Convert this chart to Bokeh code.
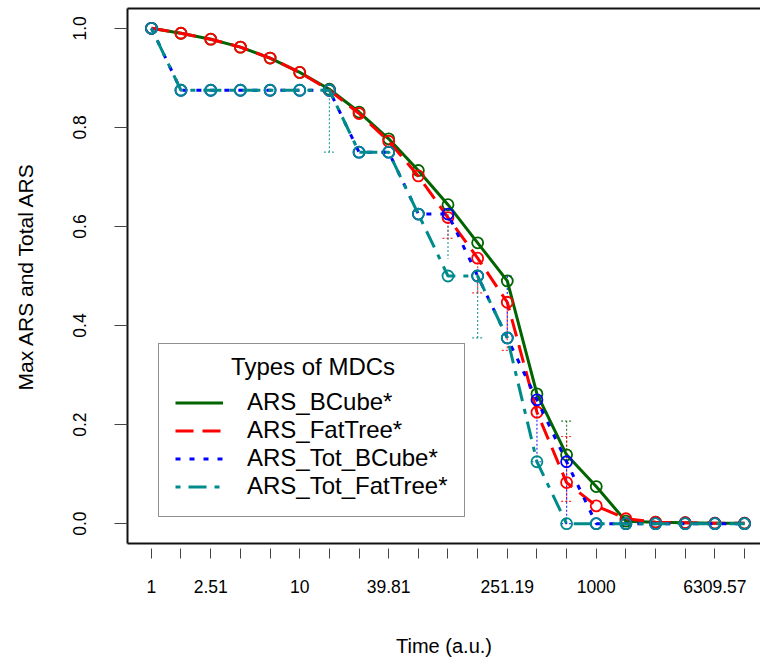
from bokeh.plotting import figure
from bokeh.models import (FixedTicker, Legend, LegendItem, Range1d,
                          NumeralTickFormatter, LogAxis)
from bokeh.core.properties import value
from bokeh.embed import file_html
from bokeh.resources import INLINE

# ---------------- data ----------------
time = [1, 1.58, 2.51, 3.98, 6.31, 10, 15.85, 25.12, 39.81, 63.1, 100,
        158.49, 251.19, 398.11, 630.96, 1000, 1584.89, 2511.89, 3981.07,
        6309.57, 10000]

ars_bcube = [1.0, 0.99, 0.978, 0.962, 0.94, 0.911, 0.877, 0.831, 0.777,
             0.713, 0.644, 0.567, 0.49, 0.262, 0.139, 0.075, 0.005, 0.003,
             0.002, 0.001, 0.001]
ars_fattree = [1.0, 0.99, 0.978, 0.962, 0.94, 0.911, 0.875, 0.828, 0.772,
               0.702, 0.618, 0.536, 0.447, 0.225, 0.083, 0.036, 0.01, 0.003,
               0.002, 0.001, 0.001]
ars_tot_bcube = [1.0, 0.875, 0.875, 0.875, 0.875, 0.875, 0.875, 0.75, 0.75,
                 0.625, 0.625, 0.5, 0.375, 0.25, 0.125, 0.0, 0.0, 0.0, 0.0,
                 0.0, 0.0]
ars_tot_fattree = [1.0, 0.875, 0.875, 0.875, 0.875, 0.875, 0.875, 0.75, 0.75,
                   0.625, 0.5, 0.5, 0.375, 0.125, 0.0, 0.0, 0.0, 0.0, 0.0,
                   0.0, 0.0]

# error bars (dotted): x, from, to ; caps: x, y
err_bcube_x = [630.96]
err_bcube_from = [0.139]
err_bcube_to = [0.207]
cap_bcube_x = [630.96]
cap_bcube_y = [0.207]

err_fattree_x = [100, 158.49, 251.19, 630.96]
err_fattree_from = [0.618, 0.536, 0.447, 0.176]
err_fattree_to = [0.576, 0.466, 0.35, 0.045]
cap_fattree_x = [100, 158.49, 251.19, 630.96, 630.96]
cap_fattree_y = [0.576, 0.466, 0.35, 0.176, 0.045]

err_tot_bcube_x = [251.19, 398.11, 630.96]
err_tot_bcube_from = [0.375, 0.25, 0.125]
err_tot_bcube_to = [0.5, 0.125, 0.0]
cap_tot_bcube_x = [251.19, 398.11, 630.96]
cap_tot_bcube_y = [0.5, 0.125, 0.0]

err_tot_fattree_x = [15.85, 100, 158.49]
err_tot_fattree_from = [0.875, 0.625, 0.5]
err_tot_fattree_to = [0.75, 0.535, 0.375]
cap_tot_fattree_x = [15.85, 158.49]
cap_tot_fattree_y = [0.75, 0.375]

x_tick_labels = {1: "1", 2.51: "2.51", 10: "10", 39.81: "39.81",
                 251.19: "251.19", 1000: "1000", 6309.57: "6309.57"}
y_ticks = [0.0, 0.2, 0.4, 0.6, 0.8, 1.0]

series_names = ["ARS_BCube*", "ARS_FatTree*", "ARS_Tot_BCube*", "ARS_Tot_FatTree*"]
legend_title = "Types of MDCs"

# ---------------- styles ----------------
FONT = "Liberation Sans"
colors = ["#006400", "#ff0000", "#0000ff", "#008b8b"]
dashes = ["solid", "18 9", "5 9", "5 8 18 8"]
BOX = "#111111"

p = figure(width=760, height=661, output_backend="svg", toolbar_location=None,
           x_axis_type="log",
           x_range=Range1d(0.689, 12820), y_range=Range1d(-0.04, 1.04),
           min_border_left=127, min_border_right=0, min_border_top=8,
           min_border_bottom=118)
p.background_fill_color = "white"
p.border_fill_color = "white"
p.outline_line_color = None
p.xgrid.visible = False
p.ygrid.visible = False

# x axis (box bottom line + offset ticks)
xa = p.xaxis[0]
xa.ticker = FixedTicker(ticks=time, minor_ticks=[])
xa.major_label_overrides = {t: x_tick_labels.get(t, "") for t in time}
xa.axis_line_color = BOX
xa.axis_line_width = 2
xa.major_tick_in = -5
xa.major_tick_out = 15
xa.major_tick_line_color = "#444444"
xa.minor_tick_line_color = None
xa.major_label_standoff = 21
xa.major_label_text_font = FONT
xa.major_label_text_font_size = "17.5px"
xa.major_label_text_color = "black"
xa.axis_label = "Time (a.u.)"
xa.axis_label_text_font = FONT
xa.axis_label_text_font_size = "20px"
xa.axis_label_text_font_style = "normal"
xa.axis_label_text_color = "black"
xa.axis_label_standoff = 39

# y axis (box left line)
ya = p.yaxis[0]
ya.ticker = FixedTicker(ticks=y_ticks, minor_ticks=[])
ya.formatter = NumeralTickFormatter(format="0.0")
ya.axis_line_color = BOX
ya.axis_line_width = 2
ya.major_tick_in = 0
ya.major_tick_out = 13
ya.major_tick_line_color = "#444444"
ya.minor_tick_line_color = None
ya.major_label_orientation = "parallel"
ya.major_label_standoff = 28
ya.major_label_text_font = FONT
ya.major_label_text_font_size = "17.5px"
ya.major_label_text_color = "black"
ya.axis_label = "Max ARS and Total ARS"
ya.axis_label_text_font = FONT
ya.axis_label_text_font_size = "21px"
ya.axis_label_text_font_style = "normal"
ya.axis_label_text_color = "black"
ya.axis_label_standoff = 34

# top box line
top = LogAxis(ticker=FixedTicker(ticks=[], minor_ticks=[]),
              axis_line_color=BOX, axis_line_width=2,
              major_tick_line_color=None, minor_tick_line_color=None,
              major_label_text_font_size="0px")
p.add_layout(top, "above")

# error bars (under lines)
errs = [
    (err_bcube_x, err_bcube_from, err_bcube_to, cap_bcube_x, cap_bcube_y),
    (err_fattree_x, err_fattree_from, err_fattree_to, cap_fattree_x, cap_fattree_y),
    (err_tot_bcube_x, err_tot_bcube_from, err_tot_bcube_to, cap_tot_bcube_x, cap_tot_bcube_y),
    (err_tot_fattree_x, err_tot_fattree_from, err_tot_fattree_to, cap_tot_fattree_x, cap_tot_fattree_y),
]
for (ex, ef, et, cx, cy), c in zip(errs, colors):
    p.segment(x0=ex, y0=ef, x1=ex, y1=et, line_color=c, line_width=1.2,
              line_dash="2 2", line_alpha=0.8)
    p.scatter(x=cx, y=cy, marker="dash", size=11, line_color=c,
              line_width=1.2, line_dash="2 2", line_alpha=0.8)

series = [ars_bcube, ars_fattree, ars_tot_bcube, ars_tot_fattree]
items = []
for name, vals, c, d in zip(series_names, series, colors, dashes):
    r = p.line(time, vals, line_color=c, line_width=3, line_dash=d)
    p.scatter(time, vals, marker="circle", size=11, fill_color=None,
              line_color=c, line_width=1.8)
    items.append(LegendItem(label=name, renderers=[r]))

# legend title, centred over the legend box (drawn as a text glyph; the
# legend background is transparent — no data runs under the box)
p.text(x=[12.3], y=[0.318], text=[legend_title], text_font=value(FONT),
       text_font_size="24px", text_align="center", text_baseline="middle",
       text_color="black")

legend = Legend(items=items, location=(31, 26), title=" ",
                title_text_font=FONT, title_text_font_size="24px",
                title_standoff=0,
                label_text_font=FONT, label_text_font_size="24px",
                label_text_color="black",
                glyph_width=48, glyph_height=27, label_height=27,
                label_standoff=24, spacing=0, padding=16,
                border_line_color="#222222", border_line_width=1.5,
                background_fill_alpha=0)
p.add_layout(legend, "center")

open("out.html", "w").write(file_html(p, INLINE))
